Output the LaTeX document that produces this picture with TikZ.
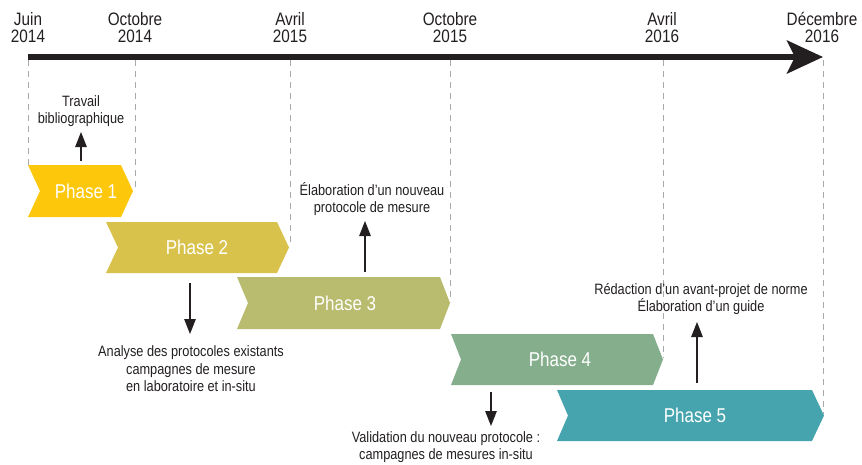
\documentclass[tikz,border=0pt]{standalone}
\usepackage{fontspec}
\setmainfont[FakeStretch=0.85]{Liberation Sans}
\usetikzlibrary{arrows.meta}
\definecolor{ph1}{HTML}{FDC70C}
\definecolor{ph2}{HTML}{D9C24C}
\definecolor{ph3}{HTML}{B9BB6E}
\definecolor{ph4}{HTML}{85AE8C}
\definecolor{ph5}{HTML}{46A4AE}
\definecolor{txt}{HTML}{231F20}
\definecolor{guidec}{HTML}{A7A9AC}
\tikzset{
  datelbl/.style={font=\fontsize{18}{17}\selectfont, align=center, inner sep=0pt, text depth=0pt, anchor=south, text=txt},
  note/.style={font=\fontsize{15}{17.5}\selectfont, align=center, inner sep=0pt, text depth=0pt, anchor=south, text=txt},
  phlbl/.style={font=\fontsize{20}{20}\selectfont, text=white, inner sep=0pt},
  guide/.style={draw=guidec, line width=1pt, dash pattern=on 6pt off 5pt},
  arr/.style={-{Triangle[length=15pt,width=11.5pt]}, line width=1.3pt, draw=txt},
  timeline/.style={line width=5.5pt, draw=txt, -{Stealth[length=36pt,width=33pt,inset=8pt]}}
}
\begin{document}
\begin{tikzpicture}[x=1pt,y=-1pt]
\useasboundingbox (0,0) rectangle (862,464);

% guide lines
\coordinate (g0t) at (28,60);  \coordinate (g0b) at (28,165);
\coordinate (g1t) at (135,60); \coordinate (g1b) at (135,188);
\coordinate (g2t) at (290,60); \coordinate (g2b) at (290,246);
\coordinate (g3t) at (450,60); \coordinate (g3b) at (450,302);
\coordinate (g4t) at (663,60); \coordinate (g4b) at (663,358);
\coordinate (g5t) at (823,60); \coordinate (g5b) at (823,414);
\foreach \i in {0,...,5} { \draw[guide] (g\i t) -- (g\i b); }

% timeline
\coordinate (ts) at (28,57);
\coordinate (te) at (823,57);
\draw[timeline] (ts) -- (te);

% dates
\node[datelbl] (d0) at (28,43) {Juin\\2014};
\node[datelbl] (d1) at (135,43) {Octobre\\2014};
\node[datelbl] (d2) at (290,43) {Avril\\2015};
\node[datelbl] (d3) at (450,43) {Octobre\\2015};
\node[datelbl] (d4) at (662,43) {Avril\\2016};
\node[datelbl] (d5) at (822,43) {Décembre\\2016};

% phases
\fill[ph1] (28,165) -- (121,165) -- (133,191) -- (121,217) -- (28,217) -- (40,191) -- cycle;
\node[phlbl] (p1) at (86,191) {Phase 1};
\fill[ph2] (106,222) -- (277,222) -- (289,247.5) -- (277,273) -- (106,273) -- (118,247.5) -- cycle;
\node[phlbl] (p2) at (197,247.5) {Phase 2};
\fill[ph3] (237,277) -- (440,277) -- (450,303) -- (440,329) -- (237,329) -- (248,303) -- cycle;
\node[phlbl] (p3) at (345,303) {Phase 3};
\fill[ph4] (451,334) -- (653,334) -- (663,359.5) -- (653,385) -- (451,385) -- (461,359.5) -- cycle;
\node[phlbl] (p4) at (560,359.5) {Phase 4};
\fill[ph5] (557,390) -- (812,390) -- (824,415.5) -- (812,441) -- (557,441) -- (568,415.5) -- cycle;
\node[phlbl] (p5) at (695,415.5) {Phase 5};

% notes
\node[note] (n1) at (81,124) {Travail\\bibliographique};
\node[note] (n3) at (372,213) {Élaboration d’un nouveau\\protocole de mesure};
\node[note] (n2) at (191,392) {Analyse des protocoles existants\\campagnes de mesure\\en laboratoire et in-situ};
\node[note] (n4) at (446,460) {Validation du nouveau protocole :\\campagnes de mesures in-situ};
\node[note] (n5) at (701,312) {Rédaction d’un avant-projet de norme\\Élaboration d’un guide};

% arrows
\coordinate (a1s) at (81,161);  \coordinate (a1e) at (81,132);
\coordinate (a3s) at (365,272); \coordinate (a3e) at (365,221);
\coordinate (a2s) at (190,283); \coordinate (a2e) at (190,334);
\coordinate (a4s) at (491,392); \coordinate (a4e) at (491,426);
\coordinate (a5s) at (697,383); \coordinate (a5e) at (697,322);
\draw[arr] (a1s) -- (a1e);
\draw[arr] (a3s) -- (a3e);
\draw[arr] (a2s) -- (a2e);
\draw[arr] (a4s) -- (a4e);
\draw[arr] (a5s) -- (a5e);
\end{tikzpicture}
\end{document}
